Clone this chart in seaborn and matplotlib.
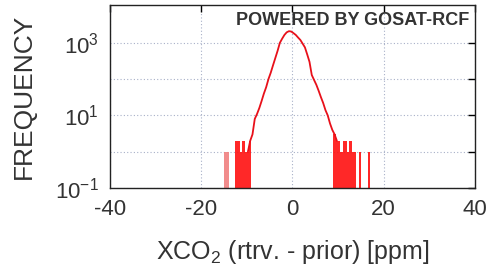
import numpy as np
import matplotlib
matplotlib.use("Agg")
import matplotlib.pyplot as plt
import seaborn as sns

# XCO2 difference (retrieved - prior), 0.5 ppm bins
bin_left = [
    -16.0, -15.5, -15.0, -14.5, -14.0, -13.5, -13.0, -12.5, -12.0, -11.5,
    -11.0, -10.5, -10.0, -9.5, -9.0, -8.5, -8.0, -7.5, -7.0, -6.5,
    -6.0, -5.5, -5.0, -4.5, -4.0, -3.5, -3.0, -2.5, -2.0, -1.5,
    -1.0, -0.5, 0.0, 0.5, 1.0, 1.5, 2.0, 2.5, 3.0, 3.5,
    4.0, 4.5, 5.0, 5.5, 6.0, 6.5, 7.0, 7.5, 8.0, 8.5,
    9.0, 9.5, 10.0, 10.5, 11.0, 11.5, 12.0, 12.5, 13.0, 13.5,
    14.0, 14.5, 15.0, 15.5, 16.0, 16.5,
]
counts = [
    0, 0, 1, 1, 0, 0, 0, 2, 2, 1,
    2, 1, 1, 2, 3, 8, 11, 16, 25, 40,
    60, 100, 150, 240, 380, 600, 1000, 1300, 1650, 1950,
    2100, 2050, 1850, 1650, 1400, 1200, 950, 750, 480, 300,
    130, 95, 70, 48, 32, 22, 14, 10, 6, 4,
    3, 2, 2, 1, 2, 2, 1, 2, 1, 1,
    0, 1, 0, 0, 0, 1,
]
bin_width = 0.5

x_ticks = [-40, -20, 0, 20, 40]
y_ticks = [0.1, 1, 10, 100, 1000]
y_tick_labels = [r"$10^{-1}$", "", r"$10^{1}$", "", r"$10^{3}$"]

sns.set_style("white")
plt.rcParams["font.family"] = ["Liberation Sans", "DejaVu Sans"]
plt.rcParams["mathtext.default"] = "regular"

fig = plt.figure(figsize=(4.91, 2.67), dpi=100)
ax = fig.add_axes([0.224, 0.296, 0.743, 0.685])

edges = list(bin_left) + [bin_left[-1] + bin_width]
centers = [b + bin_width / 2 for b in bin_left]

# isolated tail bins look filled in the original (dense lines)
far_tail = [c if x < -13.5 else 0 for x, c in zip(centers, counts)]
tail = [c if abs(x) > 9 and x > -13.5 else 0 for x, c in zip(centers, counts)]
core_x = [x for x, c in zip(centers, counts) if abs(x) <= 10]
core_c = [c for x, c in zip(centers, counts) if abs(x) <= 10]
sns.histplot(x=centers, weights=far_tail, bins=edges, element="bars", fill=True,
             color="#f08080", alpha=0.9, linewidth=0, ax=ax)
sns.histplot(x=centers, weights=tail, bins=edges, element="bars", fill=True,
             color="#ff1010", alpha=0.9, linewidth=0, ax=ax)
sns.lineplot(x=core_x, y=core_c, color="#e8101a", linewidth=1.3, ax=ax)

ax.set_yscale("log")
ax.set_xlim(-40, 40)
ax.set_ylim(0.1, 1.1e4)
ax.set_xticks(x_ticks)
ax.set_xticklabels([str(t) for t in x_ticks])
ax.set_yticks(y_ticks)
ax.set_yticklabels(y_tick_labels)
ax.minorticks_off()

ax.grid(True, linestyle=(0, (1, 2)), color="#a8b0c8", linewidth=0.8)
ax.tick_params(direction="in", length=5, width=1, top=True, right=True,
               labelsize=16, pad=8, colors="black")
ax.tick_params(axis="x", labelcolor="#333333")
ax.tick_params(axis="y", labelcolor="#333333")
for s in ax.spines.values():
    s.set_color("#222222")
    s.set_linewidth(1.0)

ax.set_xlabel(r"XCO$_2$ (rtrv. - prior) [ppm]", fontsize=18, color="#333333",
              labelpad=13)
ax.set_ylabel("FREQUENCY", fontsize=19, color="#333333", labelpad=14)

ax.text(0.985, 0.915, "POWERED BY GOSAT-RCF", transform=ax.transAxes,
        ha="right", va="center", fontsize=13, fontweight="bold",
        color="#333333")

fig.savefig("out.png", dpi=100)
